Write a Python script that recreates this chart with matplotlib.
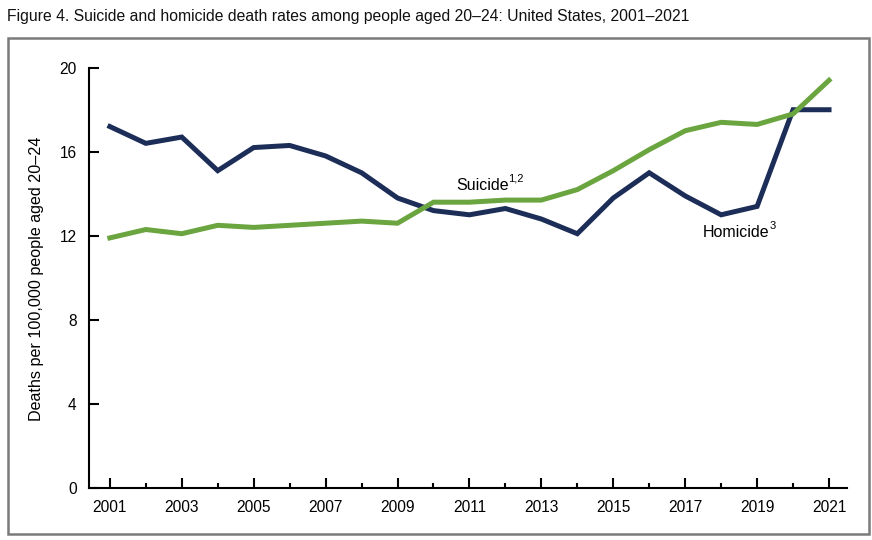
import matplotlib
matplotlib.use("Agg")
import matplotlib.pyplot as plt
from matplotlib.patches import Rectangle

years = list(range(2001, 2022))
homicide = [17.2, 16.4, 16.7, 15.1, 16.2, 16.3, 15.8, 15.0, 13.8, 13.2, 13.0,
            13.3, 12.8, 12.1, 13.8, 15.0, 13.9, 13.0, 13.4, 18.0, 18.0]
suicide = [11.9, 12.3, 12.1, 12.5, 12.4, 12.5, 12.6, 12.7, 12.6, 13.6, 13.6,
           13.7, 13.7, 14.2, 15.1, 16.1, 17.0, 17.4, 17.3, 17.8, 19.4]
yticks = [0, 4, 8, 12, 16, 20]
xticks_major = list(range(2001, 2022, 2))
xticks_minor = list(range(2002, 2021, 2))

title = "Figure 4. Suicide and homicide death rates among people aged 20\u201324: United States, 2001\u20132021"
ylabel = "Deaths per 100,000 people aged 20\u201324"

NAVY = "#1c2d57"
GREEN = "#6aa540"

plt.rcParams["font.family"] = ["Liberation Sans", "DejaVu Sans"]

W, H = 872, 540
fig = plt.figure(figsize=(W / 100, H / 100), dpi=100)

# outer frame
fig.patches.append(Rectangle((8 / W, 1 - 534 / H), (869 - 8) / W, (534 - 38) / H,
                             transform=fig.transFigure, fill=False,
                             edgecolor="#7a7a7a", linewidth=1.8))
fig.text(7 / W, 1 - 16 / H, title, fontsize=11.3, ha="left", va="center", color="#111111")
fig.text(36 / W, 1 - 279 / H, ylabel, fontsize=11.6, rotation=90, ha="center", va="center")

ax = fig.add_axes([89 / W, 1 - 488 / H, (847 - 89) / W, (488 - 67.7) / H])
ax.plot(years, homicide, color=NAVY, linewidth=3.6, solid_joinstyle="miter", clip_on=False, zorder=3)
ax.plot(years, suicide, color=GREEN, linewidth=3.6, solid_joinstyle="miter", clip_on=False, zorder=4)

ax.set_xlim(2000.42, 2021.5)
ax.set_ylim(0, 20)
for s in ["top", "right"]:
    ax.spines[s].set_visible(False)
for s in ["left", "bottom"]:
    ax.spines[s].set_linewidth(1.5)
    ax.spines[s].set_color("black")

ax.set_yticks(yticks)
ax.set_xticks(xticks_major)
ax.set_xticks(xticks_minor, minor=True)
ax.tick_params(axis="both", which="major", direction="in", length=7, width=1.5,
               labelsize=11.2, pad=9, colors="black")
ax.tick_params(axis="x", which="minor", direction="in", length=3.5, width=1.5)

t1 = ax.text(2010.62, 14.2, "Suicide", fontsize=11.5, ha="left", va="baseline")
ax.annotate("1,2", xy=(1.0, 0.6), xycoords=t1, fontsize=8, ha="left", va="bottom")
t2 = ax.text(2017.48, 11.94, "Homicide", fontsize=11.5, ha="left", va="baseline")
ax.annotate("3", xy=(1.0, 0.6), xycoords=t2, fontsize=8, ha="left", va="bottom")

fig.savefig("out.png", dpi=100)
